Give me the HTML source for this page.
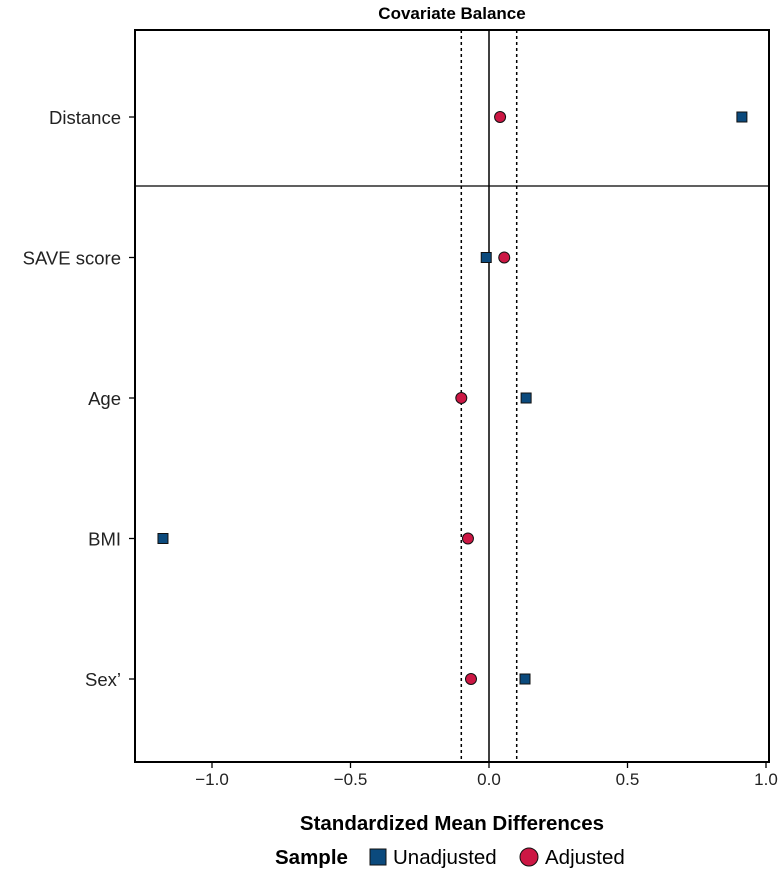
<!DOCTYPE html>
<html><head><meta charset="utf-8"><style>
body{margin:0;background:#fff;font-family:"Liberation Sans",Arial,sans-serif;}
svg text{font-family:"Liberation Sans",Arial,sans-serif;}
</style></head><body>
<svg id="chart" width="781" height="870" xmlns="http://www.w3.org/2000/svg">
<text x="452" y="19" text-anchor="middle" font-size="17" font-weight="bold">Covariate Balance</text>
<g id="plot"></g>
<text x="452" y="830" text-anchor="middle" font-size="20.5" font-weight="bold">Standardized Mean Differences</text>
<g>
<text x="275" y="864" font-size="20.5" font-weight="bold">Sample</text>
<rect x="370" y="849" width="16" height="16" fill="#0b4a7d" stroke="#111" stroke-width="1"/>
<text x="393" y="864" font-size="20.5">Unadjusted</text>
<circle cx="529" cy="857" r="9" fill="#cc1744" stroke="#111" stroke-width="1"/>
<text x="545" y="864" font-size="20.5">Adjusted</text>
</g>
</svg>
<script>
const covariates = ["Distance","SAVE score","Age","BMI","Sex’"];
const unadjusted = [0.913,-0.01,0.134,-1.177,0.13];
const adjusted = [0.04,0.055,-0.10,-0.076,-0.065];
const xTicks = [-1.0,-0.5,0.0,0.5,1.0];
const xTickLabels = ["−1.0","−0.5","0.0","0.5","1.0"];
const threshold = 0.1;

const NS="http://www.w3.org/2000/svg";
const L=135,R=769,T=30,B=762;
const x=v=>489+v*277;
const y=i=>117+i*140.5;
const g=document.getElementById('plot');
function mk(t,a){const e=document.createElementNS(NS,t);for(const k in a)e.setAttribute(k,a[k]);g.appendChild(e);return e;}
let e;
e=mk('rect',{x:L,y:T,width:R-L,height:B-T,fill:'none',stroke:'#000','stroke-width':2});


e=mk('line',{x1:L,x2:R,y1:186,y2:186,stroke:'#000','stroke-width':1.3});


e=mk('line',{x1:x(0),x2:x(0),y1:T,y2:B,stroke:'#000','stroke-width':1.5});


[-threshold,threshold].forEach(t=>{
 e=mk('line',{x1:x(t),x2:x(t),y1:T,y2:B,stroke:'#000','stroke-width':1.5,'stroke-dasharray':'3,3'});
 
 
});
xTicks.forEach((v,i)=>{
 e=mk('line',{x1:x(v),x2:x(v),y1:B,y2:B+6,stroke:'#000','stroke-width':1.3});
 
 
 e=mk('text',{x:x(v),y:B+23,'text-anchor':'middle','font-size':17,fill:'#222'});
 e.textContent=xTickLabels[i];
 
 
});
covariates.forEach((c,i)=>{
 e=mk('line',{x1:L-6,x2:L,y1:y(i),y2:y(i),stroke:'#000','stroke-width':1.3});
 
 
 e=mk('text',{x:L-14,y:y(i)+7,'text-anchor':'end','font-size':18.5,fill:'#222'});
 e.textContent=c;
 
 
 e=mk('rect',{x:x(unadjusted[i])-5,y:y(i)-5,width:10,height:10,fill:'#0b4a7d',stroke:'#111','stroke-width':1});
 
 
 e=mk('circle',{cx:x(adjusted[i]),cy:y(i),r:5.5,fill:'#cc1744',stroke:'#111','stroke-width':1});
 
 
});
</script>
</body></html>
